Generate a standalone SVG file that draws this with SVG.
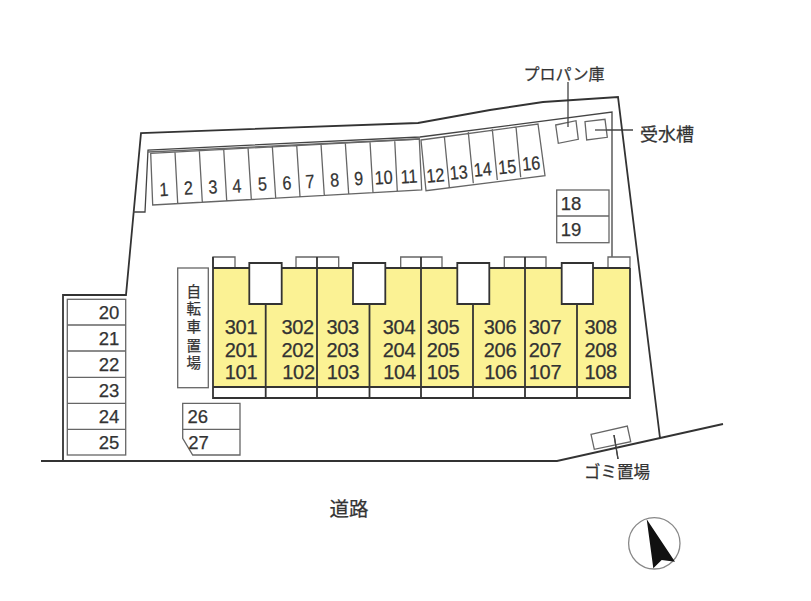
<svg xmlns="http://www.w3.org/2000/svg" width="811" height="601" viewBox="0 0 811 601">
<style>
text{font-family:"Liberation Sans","Noto Sans CJK JP",sans-serif;fill:#333;text-anchor:middle;stroke:#333;stroke-width:.25}
.cj{font-family:"Noto Sans CJK JP",sans-serif}
.l{fill:none;stroke:#444;stroke-width:1.3}
.b{fill:none;stroke:#333;stroke-width:1.8}
.t{fill:none;stroke:#666;stroke-width:1.3}
.box{fill:#fff;stroke:#666;stroke-width:1.3}
.p{font-size:18.500px}
.u{font-size:20px;letter-spacing:-.3px}
</style>
<rect width="811" height="601" fill="#fff"/>
<g id="connectors">
<path class="l" d="M568 82V127M595 130H633M614 435L618 459"/>
</g>
<g id="site">
<path class="b" d="M41 461H557L723 424M63 461V295H126L141 133L418 123L490 110L543 102L618 97L660 438"/>
<path class="l" d="M133 212H145L148 150L420 137L612 112V257"/>
<path class="t" d="M148 152L420 139"/>
</g>
<g id="parking-1-16">
<path class="t" d="M150.700 153.300L419.300 139L421.700 190L152.700 205ZM175 152L177.700 203.300M199.300 150L202.300 202M223.700 149L226.700 200.700M248 147.300L251.300 199.300M272.300 146L275.700 198M296.700 145L300 196.700M321 144L324.300 195.300M345.300 142.700L348.700 194M370 141.700L373 192.700M394.700 140L397.300 191.300M421 140L538 124L545 175.700L426 190.700ZM444.300 136L449.300 187.300M468.300 132.300L473.300 183.300M492.300 129.300L497.300 180M516 126.700L520.700 177.300"/>
<g font-size="19">
<text transform="translate(164.300 196) rotate(-3) scale(.85 1)">1</text>
<text transform="translate(188.700 194.500) rotate(-3) scale(.85 1)">2</text>
<text transform="translate(213.300 193.500) rotate(-3) scale(.85 1)">3</text>
<text transform="translate(237.300 192.500) rotate(-3) scale(.85 1)">4</text>
<text transform="translate(262.700 190.500) rotate(-3) scale(.85 1)">5</text>
<text transform="translate(287.300 189.500) rotate(-3) scale(.85 1)">6</text>
<text transform="translate(310.300 188) rotate(-3) scale(.85 1)">7</text>
<text transform="translate(335 186.500) rotate(-3) scale(.85 1)">8</text>
<text transform="translate(359 185) rotate(-3) scale(.85 1)">9</text>
<text transform="translate(384 184) rotate(-3) scale(.85 1)">10</text>
<text transform="translate(409.300 183) rotate(-3) scale(.85 1)">11</text>
<text transform="translate(436 182) rotate(-5) scale(.85 1)">12</text>
<text transform="translate(459.300 179) rotate(-5) scale(.85 1)">13</text>
<text transform="translate(483.300 176) rotate(-5) scale(.85 1)">14</text>
<text transform="translate(507.700 173.500) rotate(-5) scale(.85 1)">15</text>
<text transform="translate(531.700 170) rotate(-5) scale(.85 1)">16</text>
</g>
</g>
<g id="propane">
<path class="box" d="M555.700 125L576 120.700L578.300 139.300L558.300 143.300Z"/>
<path class="l" d="M568 122V127"/>
<text class="cj" x="564" y="80" font-size="16">プロパン庫</text>
</g>
<g id="water-tank">
<path class="box" d="M585 121.700L605 119.300L607.300 137.300L586.700 140Z"/>
<path class="l" d="M595 130H607"/>
<text class="cj" x="667" y="141" font-size="18">受水槽</text>
</g>
<g id="parking-18-19">
<rect class="box" x="556.700" y="190" width="52.300" height="52.700"/>
<path class="t" d="M556.700 216H609"/>
<text class="p" x="571" y="210">18</text>
<text class="p" x="571" y="236">19</text>
</g>
<g id="building">
<path d="M213 268H249.300V304H281.700V268H353V304H385.300V268H457.300V304H489.300V268H561.700V304H593V268H630V387H213Z" fill="#fbf294"/>
<path class="box" d="M213 268V257H235V268M296 268V257H338.700V268M400.700 268V257H442V268M504.300 268V257H546V268M608 268V257H630V268"/>
<path class="b" d="M213 257V398H630V268M213 268H249.300M281.700 268H353M385.300 268H457.300M489.300 268H561.700M593 268H630M213 387H630M317 257V398M421 257V398M525 257V398M265.700 304V398M369.500 304V398M473 304V398M577 304V398"/>
<path class="b" d="M249.300 263H281.700V304H249.300ZM353 263H385.300V304H353ZM457.300 263H489.300V304H457.300ZM561.700 263H593V304H561.700Z" style="fill:#fff"/>
<g class="u">
<text x="241" y="334">301</text><text x="241" y="356.500">201</text><text x="241" y="379">101</text>
<text x="297.700" y="334">302</text><text x="297.700" y="356.500">202</text><text x="298.500" y="379">102</text>
<text x="342.700" y="334">303</text><text x="342.700" y="356.500">203</text><text x="343" y="379">103</text>
<text x="399" y="334">304</text><text x="399" y="356.500">204</text><text x="399.500" y="379">104</text>
<text x="443" y="334">305</text><text x="443" y="356.500">205</text><text x="443" y="379">105</text>
<text x="500" y="334">306</text><text x="500" y="356.500">206</text><text x="500.500" y="379">106</text>
<text x="545" y="334">307</text><text x="545" y="356.500">207</text><text x="545" y="379">107</text>
<text x="600.700" y="334">308</text><text x="600.700" y="356.500">208</text><text x="600.700" y="379">108</text>
</g>
</g>
<g id="bicycle-parking">
<rect class="box" x="177.700" y="268" width="30.600" height="119.700"/>
<g class="cj" font-size="14.500">
<text x="193.700" y="297">自</text><text x="193.700" y="314">転</text><text x="193.700" y="332">車</text><text x="193.700" y="351">置</text><text x="193.700" y="368">場</text>
</g>
</g>
<g id="parking-20-25">
<rect class="box" x="67.300" y="299.300" width="58.400" height="155.700"/>
<path class="t" d="M67.300 325H125.700M67.300 351H125.700M67.300 377.300H125.700M67.300 403.300H125.700M67.300 429.300H125.700"/>
<text class="p" x="109" y="319">20</text><text class="p" x="109" y="345">21</text><text class="p" x="109" y="371">22</text><text class="p" x="109" y="397">23</text><text class="p" x="109" y="423">24</text><text class="p" x="109" y="449">25</text>
</g>
<g id="parking-26-27">
<path class="box" d="M182.700 403.300H240V455H192.700L182.700 438.300Z"/>
<path class="t" d="M182.700 429.300H240"/>
<text class="p" x="197.700" y="423">26</text><text class="p" x="198.500" y="448.500">27</text>
</g>
<g id="garbage">
<path class="t" d="M591 434.300L627.300 426L630.700 441.700L594.300 449.300Z"/>
<path class="l" d="M614 435L618 459"/>
<text class="cj" x="617" y="478" font-size="16.500">ゴミ置場</text>
</g>
<g id="road"><text class="cj" x="349" y="516" font-size="19.500">道路</text></g>
<g id="north">
<circle cx="654.300" cy="543.300" r="25.700" fill="none" stroke="#888" stroke-width="1.300"/>
<path d="M646.700 519.300L675 561.700L661.700 560L653.300 568.300Z" fill="#111"/>
</g>
</svg>
